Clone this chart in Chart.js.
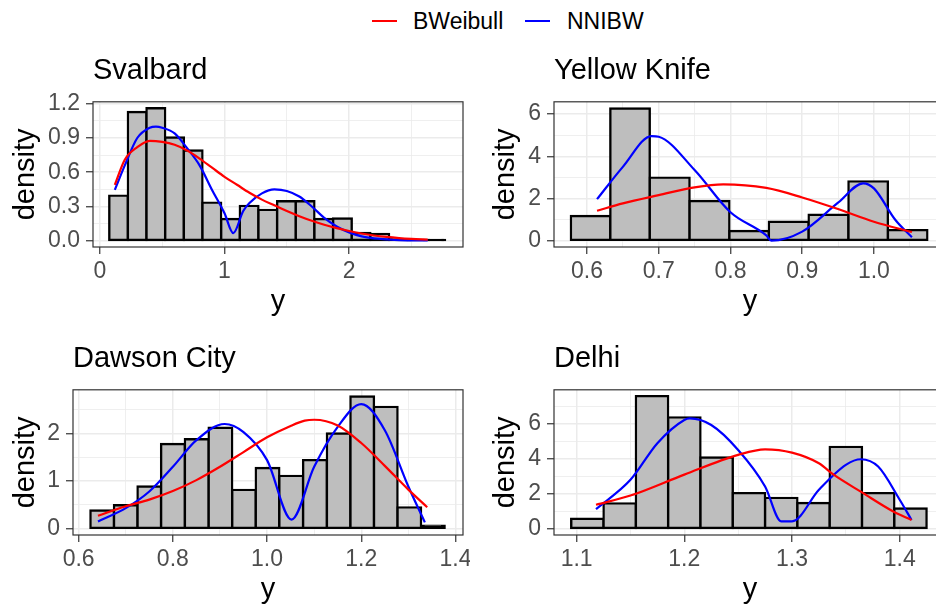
<!DOCTYPE html>
<html>
<head>
<meta charset="utf-8">
<script src="https://cdn.jsdelivr.net/npm/chart.js@4"></script>
<style>
  html, body { margin: 0; padding: 0; background: #fff; overflow: hidden; }
  #page { position: relative; width: 936px; height: 609px; overflow: hidden; font-family: "Liberation Sans", Arial, sans-serif; }
  .panel { position: absolute; }
  #legend { position: absolute; top: 0; left: 0; width: 936px; height: 40px; font-size: 23px; color: #000; }
  #legend .key { position: absolute; top: 20px; width: 25px; height: 2px; }
  #legend .txt { position: absolute; top: 7px; line-height: 28px; }
</style>
</head>
<body>
<div id="page">
  <div id="legend"></div>
  <canvas class="panel" id="svalbard" width="470" height="287" style="left:0;top:40px"></canvas>
  <canvas class="panel" id="yellowknife" width="470" height="287" style="left:480px;top:40px"></canvas>
  <canvas class="panel" id="dawson" width="470" height="287" style="left:0;top:328px"></canvas>
  <canvas class="panel" id="delhi" width="470" height="287" style="left:480px;top:328px"></canvas>
</div>
<script>
const seriesNames = ["BWeibull", "NNIBW"];
const seriesColors = ["#FF0000", "#0000FF"];

// Svalbard
const svalBins = [0.150, 0.299, 0.449, 0.599, 0.748, 0.898, 1.048, 1.197, 1.347, 1.497, 1.646, 1.796, 1.946, 2.095, 2.245, 2.395, 2.544, 2.694];
const svalDensity = [0.395, 1.128, 1.16, 0.904, 0.79, 0.334, 0.19, 0.305, 0.27, 0.346, 0.346, 0.19, 0.195, 0.067, 0.06, 0.012, 0.006, 0.006];
const svalBWeibullX = [0.12, 0.2, 0.3, 0.4, 0.5, 0.6, 0.7, 0.8, 0.9, 1.0, 1.1, 1.2, 1.3, 1.4, 1.5, 1.6, 1.7, 1.8, 1.9, 2.0, 2.1, 2.2, 2.3, 2.4, 2.5, 2.63];
const svalBWeibullY = [0.49, 0.71, 0.82, 0.875, 0.866, 0.84, 0.79, 0.72, 0.64, 0.56, 0.49, 0.42, 0.36, 0.31, 0.26, 0.215, 0.175, 0.14, 0.11, 0.085, 0.063, 0.046, 0.033, 0.023, 0.016, 0.01];
const svalNNIBWX = [0.12, 0.2, 0.3, 0.4, 0.45, 0.5, 0.6, 0.7, 0.8, 0.9, 1.0, 1.07, 1.15, 1.2, 1.3, 1.4, 1.5, 1.6, 1.7, 1.8, 1.9, 2.0, 2.1, 2.2, 2.3, 2.4, 2.63];
const svalNNIBWY = [0.445, 0.66, 0.9, 0.99, 1.0, 0.99, 0.94, 0.81, 0.66, 0.445, 0.24, 0.067, 0.26, 0.33, 0.415, 0.45, 0.436, 0.387, 0.30, 0.2, 0.125, 0.073, 0.038, 0.02, 0.012, 0.006, 0.003];
const svalXTicks = [0, 1, 2];
const svalXLabels = ["0", "1", "2"];
const svalXMinor = [0.5, 1.5, 2.5];
const svalYTicks = [0, 0.3, 0.6, 0.9, 1.2];
const svalYLabels = ["0.0", "0.3", "0.6", "0.9", "1.2"];
const svalYMinor = [0.15, 0.45, 0.75, 1.05];
const svalXRange = [-0.055, 2.913];
const svalYRange = [-0.055, 1.217];

// Yellow Knife
const ykBins = [0.605, 0.660, 0.715, 0.771, 0.826, 0.881, 0.937, 0.992, 1.047];
const ykDensity = [1.17, 6.27, 2.99, 1.88, 0.46, 0.9, 1.23, 2.81, 0.5];
const ykBWeibullX = [0.614, 0.65, 0.7, 0.75, 0.79, 0.85, 0.9, 0.95, 1.0, 1.053];
const ykBWeibullY = [1.42, 1.77, 2.16, 2.53, 2.67, 2.5, 2.05, 1.5, 0.9, 0.41];
const ykNNIBWX = [0.614, 0.65, 0.69, 0.7, 0.75, 0.8, 0.85, 0.857, 0.9, 0.95, 0.985, 1.0, 1.03, 1.053];
const ykNNIBWY = [1.97, 3.5, 4.96, 4.93, 3.35, 1.35, 0.25, 0.0, 0.43, 1.8, 2.72, 2.48, 0.98, 0.16];
const ykXTicks = [0.6, 0.7, 0.8, 0.9, 1.0];
const ykXLabels = ["0.6", "0.7", "0.8", "0.9", "1.0"];
const ykXMinor = [0.65, 0.75, 0.85, 0.95, 1.05];
const ykYTicks = [0, 2, 4, 6];
const ykYLabels = ["0", "2", "4", "6"];
const ykYMinor = [1, 3, 5];
const ykXRange = [0.554, 1.1005];
const ykYRange = [-0.3, 6.585];

// Dawson City
const dawBins = [0.650, 0.700, 0.750, 0.800, 0.851, 0.901, 0.951, 1.001, 1.051, 1.102, 1.152, 1.202, 1.252, 1.302, 1.352];
const dawDensity = [0.38, 0.49, 0.885, 1.78, 1.88, 2.12, 0.815, 1.275, 1.11, 1.44, 2.0, 2.78, 2.56, 0.446, 0.06];
const dawBWeibullX = [0.641, 0.7, 0.75, 0.8, 0.85, 0.9, 0.95, 1.0, 1.05, 1.08, 1.1, 1.15, 1.2, 1.25, 1.3, 1.34];
const dawBWeibullY = [0.27, 0.47, 0.61, 0.79, 1.02, 1.3, 1.61, 1.92, 2.16, 2.27, 2.29, 2.17, 1.8, 1.32, 0.82, 0.45];
const dawNNIBWX = [0.641, 0.7, 0.75, 0.8, 0.85, 0.91, 0.95, 1.0, 1.052, 1.1, 1.15, 1.2, 1.25, 1.3, 1.335];
const dawNNIBWY = [0.15, 0.43, 0.78, 1.3, 1.86, 2.2, 2.03, 1.44, 0.19, 1.3, 2.14, 2.62, 2.07, 0.885, 0.13];
const dawXTicks = [0.6, 0.8, 1.0, 1.2, 1.4];
const dawXLabels = ["0.6", "0.8", "1.0", "1.2", "1.4"];
const dawXMinor = [0.7, 0.9, 1.1, 1.3];
const dawYTicks = [0, 1, 2];
const dawYLabels = ["0", "1", "2"];
const dawYMinor = [0.5, 1.5, 2.5];
const dawXRange = [0.588, 1.416];
const dawYRange = [-0.135, 2.92];

// Delhi
const delBins = [1.110, 1.140, 1.170, 1.200, 1.230, 1.260, 1.290, 1.320, 1.350, 1.380, 1.410];
const delDensity = [0.57, 1.45, 7.6, 6.38, 4.08, 2.04, 1.77, 1.47, 4.69, 2.04, 1.16];
const delBWeibullX = [1.118, 1.15, 1.2, 1.25, 1.275, 1.3, 1.325, 1.339, 1.365, 1.394, 1.411];
const delBWeibullY = [1.37, 1.9, 3.1, 4.23, 4.55, 4.36, 3.75, 3.08, 2.08, 0.99, 0.5];
const delNNIBWX = [1.118, 1.15, 1.175, 1.2, 1.205, 1.225, 1.25, 1.275, 1.29, 1.3, 1.325, 1.35, 1.364, 1.38, 1.4, 1.411];
const delNNIBWY = [1.12, 2.8, 4.9, 6.23, 6.32, 5.94, 4.51, 2.42, 0.42, 0.42, 2.23, 3.66, 3.98, 3.56, 1.66, 0.5];
const delXTicks = [1.1, 1.2, 1.3, 1.4];
const delXLabels = ["1.1", "1.2", "1.3", "1.4"];
const delXMinor = [1.15, 1.25, 1.35];
const delYTicks = [0, 2, 4, 6];
const delYLabels = ["0", "2", "4", "6"];
const delYMinor = [1, 3, 5, 7];
const delXRange = [1.079, 1.443];
const delYRange = [-0.36, 7.96];

Chart.defaults.font.family = "'Liberation Sans', Arial, sans-serif";

// html legend shared by the four panels
const legend = document.getElementById("legend");
const keyLeft = [372, 525];
const txtLeft = [413, 567];
seriesNames.forEach((name, i) => {
  legend.innerHTML += `<span class="key" style="left:${keyLeft[i]}px;background:${seriesColors[i]}"></span>` +
    `<span class="txt" style="left:${txtLeft[i]}px">${name}</span>`;
});

// ggplot style panel border
const panelBorder = {
  id: "panelBorder",
  afterDatasetsDraw(chart) {
    const { ctx, chartArea: a } = chart;
    ctx.save();
    ctx.strokeStyle = "#333333";
    ctx.lineWidth = 1.2;
    ctx.strokeRect(a.left, a.top, a.right - a.left, a.bottom - a.top);
    ctx.restore();
  }
};

function makeTicks(major, labels, minor) {
  const list = major.map((v, i) => ({ value: v, text: labels[i], isMajor: true }))
    .concat(minor.map(v => ({ value: v, text: "", isMajor: false })));
  return list.sort((a, b) => a.value - b.value);
}

function axis(range, major, labels, minor, title, fit) {
  return {
    type: "linear",
    min: range[0],
    max: range[1],
    offset: false,
    afterBuildTicks: s => { s.ticks = makeTicks(major, labels, minor); },
    afterFit: fit,
    border: { display: false },
    grid: {
      offset: false,
      color: "#EBEBEB",
      lineWidth: c => (c.tick && c.tick.isMajor ? 1.5 : 0.8),
      tickColor: c => (c.tick && c.tick.isMajor ? "#333333" : "rgba(0,0,0,0)"),
      tickWidth: 1.2,
      tickLength: 7
    },
    ticks: {
      autoSkip: false,
      maxRotation: 0,
      color: "#4D4D4D",
      font: { size: 23 },
      callback: (v, i, t) => t[i].text
    },
    title: { display: true, text: title, color: "#000", font: { size: 29 } }
  };
}

function drawPanel(id, title, d) {
  const pts = (xs, ys) => xs.map((x, i) => ({ x: x, y: ys[i] }));
  const xAxis = axis(d.xRange, d.xTicks, d.xLabels, d.xMinor, "y", s => {
    s.height = 80; s.paddingLeft = 0; s.paddingRight = 0;
  });
  xAxis.ticks.padding = 4;
  xAxis.title.padding = { top: 0, bottom: 7.6 };
  const yAxis = axis(d.yRange, d.yTicks, d.yLabels, d.yMinor, "density", s => {
    s.width = d.yWidth; s.paddingTop = 0; s.paddingBottom = 0;
  });
  yAxis.ticks.padding = 6;
  yAxis.title.padding = { top: 9, bottom: 0 };

  new Chart(document.getElementById(id), {
    type: "bar",
    data: {
      datasets: [
        {
          type: "line", label: seriesNames[0], data: pts(d.redX, d.redY),
          borderColor: seriesColors[0], borderWidth: 2.2, pointRadius: 0,
          cubicInterpolationMode: "monotone", order: 1
        },
        {
          type: "line", label: seriesNames[1], data: pts(d.blueX, d.blueY),
          borderColor: seriesColors[1], borderWidth: 2.2, pointRadius: 0,
          cubicInterpolationMode: "monotone", order: 2
        },
        {
          type: "bar", label: "histogram", data: pts(d.bins, d.density),
          backgroundColor: c => {
            const s = c.chart.scales.y;
            if (!s || !c.parsed) return "#BEBEBE";
            // very thin bars look solid black in the original
            return Math.abs(s.getPixelForValue(0) - s.getPixelForValue(c.parsed.y)) < 3 ? "#000000" : "#BEBEBE";
          },
          borderColor: "#000000", borderWidth: 2.4, borderSkipped: false,
          inflateAmount: 1.2, barThickness: "flex",
          barPercentage: 1, categoryPercentage: 1, order: 3
        }
      ]
    },
    options: {
      responsive: false,
      animation: false,
      events: [],
      layout: { padding: { left: 0, right: d.padRight, top: 0, bottom: 0 } },
      plugins: {
        legend: { display: false },
        tooltip: { enabled: false },
        title: {
          display: true, text: title, align: "start", fullSize: false,
          color: "#000", font: { size: 29, weight: "normal" },
          padding: { top: 14, bottom: 13 }
        }
      },
      scales: { x: xAxis, y: yAxis }
    },
    plugins: [panelBorder]
  });
}

drawPanel("svalbard", "Svalbard", {
  bins: svalBins, density: svalDensity,
  redX: svalBWeibullX, redY: svalBWeibullY, blueX: svalNNIBWX, blueY: svalNNIBWY,
  xTicks: svalXTicks, xLabels: svalXLabels, xMinor: svalXMinor,
  yTicks: svalYTicks, yLabels: svalYLabels, yMinor: svalYMinor,
  xRange: svalXRange, yRange: svalYRange, yWidth: 93, padRight: 7
});
drawPanel("yellowknife", "Yellow Knife", {
  bins: ykBins, density: ykDensity,
  redX: ykBWeibullX, redY: ykBWeibullY, blueX: ykNNIBWX, blueY: ykNNIBWY,
  xTicks: ykXTicks, xLabels: ykXLabels, xMinor: ykXMinor,
  yTicks: ykYTicks, yLabels: ykYLabels, yMinor: ykYMinor,
  xRange: ykXRange, yRange: ykYRange, yWidth: 74, padRight: 4
});
drawPanel("dawson", "Dawson City", {
  bins: dawBins, density: dawDensity,
  redX: dawBWeibullX, redY: dawBWeibullY, blueX: dawNNIBWX, blueY: dawNNIBWY,
  xTicks: dawXTicks, xLabels: dawXLabels, xMinor: dawXMinor,
  yTicks: dawYTicks, yLabels: dawYLabels, yMinor: dawYMinor,
  xRange: dawXRange, yRange: dawYRange, yWidth: 73, padRight: 7
});
drawPanel("delhi", "Delhi", {
  bins: delBins, density: delDensity,
  redX: delBWeibullX, redY: delBWeibullY, blueX: delNNIBWX, blueY: delNNIBWY,
  xTicks: delXTicks, xLabels: delXLabels, xMinor: delXMinor,
  yTicks: delYTicks, yLabels: delYLabels, yMinor: delYMinor,
  xRange: delXRange, yRange: delYRange, yWidth: 74, padRight: 4
});
</script>
</body>
</html>
